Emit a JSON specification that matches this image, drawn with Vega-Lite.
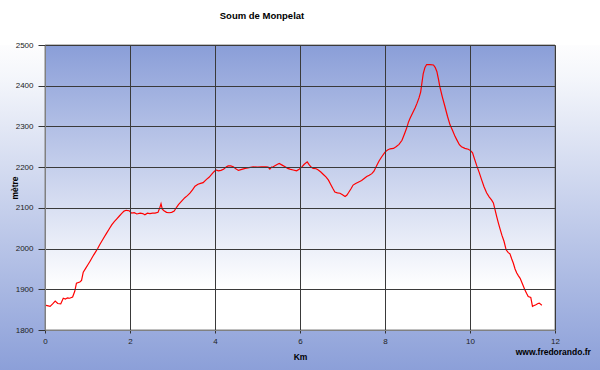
{
  "$schema": "https://vega.github.io/schema/vega-lite/v6.json",
  "width": 510,
  "height": 285,
  "autosize": "none",
  "padding": {"left": 45, "top": 45, "right": 45, "bottom": 40},
  "background": "white",
  "title": {
    "text": "Soum de Monpelat",
    "font": "Liberation Sans",
    "fontSize": 9.5,
    "fontWeight": "bold",
    "color": "#000000",
    "anchor": "middle",
    "frame": "group",
    "dx": -38,
    "offset": 21
  },
  "datasets": {
    "profile": [
      {"km": 0.00, "alt": 1861}, {"km": 0.05, "alt": 1860}, {"km": 0.12, "alt": 1858}, {"km": 0.18, "alt": 1864},
      {"km": 0.24, "alt": 1871}, {"km": 0.30, "alt": 1865}, {"km": 0.37, "alt": 1864}, {"km": 0.43, "alt": 1878},
      {"km": 0.48, "alt": 1876}, {"km": 0.53, "alt": 1879}, {"km": 0.58, "alt": 1878}, {"km": 0.65, "alt": 1881},
      {"km": 0.70, "alt": 1895}, {"km": 0.74, "alt": 1915}, {"km": 0.82, "alt": 1918}, {"km": 0.86, "alt": 1922},
      {"km": 0.90, "alt": 1942}, {"km": 0.96, "alt": 1952}, {"km": 1.02, "alt": 1962}, {"km": 1.06, "alt": 1969},
      {"km": 1.12, "alt": 1980}, {"km": 1.18, "alt": 1990}, {"km": 1.24, "alt": 2000}, {"km": 1.29, "alt": 2010},
      {"km": 1.37, "alt": 2024}, {"km": 1.45, "alt": 2038}, {"km": 1.51, "alt": 2048}, {"km": 1.57, "alt": 2058},
      {"km": 1.63, "alt": 2066}, {"km": 1.69, "alt": 2073}, {"km": 1.75, "alt": 2080}, {"km": 1.80, "alt": 2086},
      {"km": 1.86, "alt": 2092}, {"km": 1.91, "alt": 2094}, {"km": 1.98, "alt": 2093}, {"km": 2.04, "alt": 2087},
      {"km": 2.10, "alt": 2088}, {"km": 2.16, "alt": 2085}, {"km": 2.24, "alt": 2087}, {"km": 2.30, "alt": 2086},
      {"km": 2.35, "alt": 2083}, {"km": 2.41, "alt": 2087}, {"km": 2.47, "alt": 2086}, {"km": 2.53, "alt": 2087},
      {"km": 2.59, "alt": 2087}, {"km": 2.66, "alt": 2089}, {"km": 2.70, "alt": 2100}, {"km": 2.73, "alt": 2110},
      {"km": 2.76, "alt": 2097}, {"km": 2.80, "alt": 2093}, {"km": 2.86, "alt": 2089}, {"km": 2.92, "alt": 2088},
      {"km": 2.98, "alt": 2089}, {"km": 3.04, "alt": 2092}, {"km": 3.10, "alt": 2102}, {"km": 3.14, "alt": 2108},
      {"km": 3.22, "alt": 2117}, {"km": 3.29, "alt": 2125}, {"km": 3.35, "alt": 2130}, {"km": 3.41, "alt": 2136},
      {"km": 3.47, "alt": 2144}, {"km": 3.53, "alt": 2153}, {"km": 3.60, "alt": 2158}, {"km": 3.66, "alt": 2160},
      {"km": 3.72, "alt": 2162}, {"km": 3.80, "alt": 2170}, {"km": 3.86, "alt": 2175}, {"km": 3.92, "alt": 2182},
      {"km": 3.96, "alt": 2187}, {"km": 4.02, "alt": 2193}, {"km": 4.08, "alt": 2191}, {"km": 4.14, "alt": 2192},
      {"km": 4.20, "alt": 2195}, {"km": 4.27, "alt": 2201}, {"km": 4.31, "alt": 2203}, {"km": 4.37, "alt": 2203},
      {"km": 4.43, "alt": 2201}, {"km": 4.49, "alt": 2196}, {"km": 4.55, "alt": 2192}, {"km": 4.61, "alt": 2194},
      {"km": 4.71, "alt": 2197}, {"km": 4.80, "alt": 2199}, {"km": 4.90, "alt": 2201}, {"km": 5.00, "alt": 2200},
      {"km": 5.10, "alt": 2201}, {"km": 5.20, "alt": 2201}, {"km": 5.25, "alt": 2200}, {"km": 5.29, "alt": 2195},
      {"km": 5.33, "alt": 2200}, {"km": 5.37, "alt": 2201}, {"km": 5.45, "alt": 2206}, {"km": 5.51, "alt": 2209},
      {"km": 5.58, "alt": 2205}, {"km": 5.65, "alt": 2201}, {"km": 5.71, "alt": 2197}, {"km": 5.76, "alt": 2195},
      {"km": 5.84, "alt": 2193}, {"km": 5.92, "alt": 2191}, {"km": 5.98, "alt": 2195}, {"km": 6.04, "alt": 2200},
      {"km": 6.10, "alt": 2207}, {"km": 6.17, "alt": 2213}, {"km": 6.21, "alt": 2207}, {"km": 6.26, "alt": 2200},
      {"km": 6.31, "alt": 2197}, {"km": 6.38, "alt": 2196}, {"km": 6.43, "alt": 2193}, {"km": 6.49, "alt": 2188},
      {"km": 6.55, "alt": 2182}, {"km": 6.61, "alt": 2176}, {"km": 6.67, "alt": 2168}, {"km": 6.72, "alt": 2158},
      {"km": 6.77, "alt": 2148}, {"km": 6.82, "alt": 2139}, {"km": 6.88, "alt": 2137}, {"km": 6.94, "alt": 2136},
      {"km": 7.00, "alt": 2132}, {"km": 7.06, "alt": 2128}, {"km": 7.10, "alt": 2131}, {"km": 7.14, "alt": 2137},
      {"km": 7.20, "alt": 2147}, {"km": 7.25, "alt": 2156}, {"km": 7.31, "alt": 2160}, {"km": 7.37, "alt": 2163},
      {"km": 7.45, "alt": 2167}, {"km": 7.51, "alt": 2172}, {"km": 7.57, "alt": 2177}, {"km": 7.63, "alt": 2180},
      {"km": 7.69, "alt": 2184}, {"km": 7.74, "alt": 2190}, {"km": 7.80, "alt": 2203}, {"km": 7.86, "alt": 2215},
      {"km": 7.92, "alt": 2225}, {"km": 8.00, "alt": 2237}, {"km": 8.06, "alt": 2242}, {"km": 8.12, "alt": 2245},
      {"km": 8.20, "alt": 2246}, {"km": 8.26, "alt": 2250}, {"km": 8.33, "alt": 2256}, {"km": 8.40, "alt": 2266},
      {"km": 8.46, "alt": 2282}, {"km": 8.51, "alt": 2296}, {"km": 8.55, "alt": 2310}, {"km": 8.59, "alt": 2320},
      {"km": 8.65, "alt": 2333}, {"km": 8.71, "alt": 2346}, {"km": 8.75, "alt": 2356}, {"km": 8.80, "alt": 2370},
      {"km": 8.84, "alt": 2385}, {"km": 8.87, "alt": 2408}, {"km": 8.90, "alt": 2430}, {"km": 8.94, "alt": 2445},
      {"km": 8.98, "alt": 2452}, {"km": 9.06, "alt": 2452}, {"km": 9.14, "alt": 2451}, {"km": 9.18, "alt": 2445},
      {"km": 9.22, "alt": 2435}, {"km": 9.26, "alt": 2415}, {"km": 9.29, "alt": 2398}, {"km": 9.35, "alt": 2372},
      {"km": 9.41, "alt": 2349}, {"km": 9.47, "alt": 2325}, {"km": 9.53, "alt": 2304}, {"km": 9.59, "alt": 2290},
      {"km": 9.65, "alt": 2275}, {"km": 9.69, "alt": 2267}, {"km": 9.75, "alt": 2255}, {"km": 9.80, "alt": 2250},
      {"km": 9.88, "alt": 2246}, {"km": 9.96, "alt": 2244}, {"km": 10.02, "alt": 2240}, {"km": 10.06, "alt": 2235},
      {"km": 10.10, "alt": 2222}, {"km": 10.16, "alt": 2203}, {"km": 10.22, "alt": 2186}, {"km": 10.27, "alt": 2170},
      {"km": 10.33, "alt": 2152}, {"km": 10.39, "alt": 2137}, {"km": 10.45, "alt": 2127}, {"km": 10.51, "alt": 2119},
      {"km": 10.55, "alt": 2112}, {"km": 10.59, "alt": 2095}, {"km": 10.63, "alt": 2078}, {"km": 10.67, "alt": 2062},
      {"km": 10.71, "alt": 2047}, {"km": 10.75, "alt": 2033}, {"km": 10.80, "alt": 2018}, {"km": 10.85, "alt": 1997},
      {"km": 10.90, "alt": 1990}, {"km": 10.94, "alt": 1987}, {"km": 10.98, "alt": 1975}, {"km": 11.02, "alt": 1964},
      {"km": 11.06, "alt": 1950}, {"km": 11.10, "alt": 1940}, {"km": 11.14, "alt": 1933}, {"km": 11.18, "alt": 1927},
      {"km": 11.24, "alt": 1912}, {"km": 11.29, "alt": 1899}, {"km": 11.33, "alt": 1890}, {"km": 11.37, "alt": 1882},
      {"km": 11.43, "alt": 1880}, {"km": 11.47, "alt": 1858}, {"km": 11.51, "alt": 1860}, {"km": 11.55, "alt": 1862},
      {"km": 11.60, "alt": 1865}, {"km": 11.63, "alt": 1866}, {"km": 11.69, "alt": 1861}
    ]
  },
  "layer": [
    {
      "data": {"values": [{}]},
      "mark": {
        "type": "rect",
        "fill": {"gradient": "linear", "x1": 0, "y1": 0, "x2": 0, "y2": 1,
          "stops": [{"offset": 0, "color": "#fdfdfe"}, {"offset": 0.1, "color": "#f4f6fb"}, {"offset": 1, "color": "#8a9ed8"}]}
      },
      "encoding": {
        "x": {"datum": -1.2, "type": "quantitative", "scale": {"domain": [0, 12], "nice": false, "zero": false}},
        "x2": {"datum": 13.2},
        "y": {"datum": 1690, "type": "quantitative", "scale": {"domain": [1800, 2500], "nice": false, "zero": false}},
        "y2": {"datum": 2500}
      }
    },
    {
      "data": {"values": [{}]},
      "mark": {
        "type": "rect",
        "stroke": "#808080",
        "strokeWidth": 1,
        "fill": {"gradient": "linear", "x1": 0, "y1": 0, "x2": 0, "y2": 1,
          "stops": [{"offset": 0, "color": "#8a9ed8"}, {"offset": 0.85, "color": "#ffffff"}, {"offset": 1, "color": "#ffffff"}]}
      },
      "encoding": {
        "x": {"datum": 0, "type": "quantitative"},
        "x2": {"datum": 12},
        "y": {"datum": 1800, "type": "quantitative"},
        "y2": {"datum": 2500}
      }
    },
    {
      "data": {"name": "profile"},
      "mark": {"type": "line", "color": "#ff0000", "strokeWidth": 1.2, "interpolate": "linear"},
      "encoding": {
        "x": {
          "field": "km", "type": "quantitative",
          "scale": {"domain": [0, 12], "nice": false, "zero": false},
          "axis": {
            "zindex": 1,
            "values": [0, 2, 4, 6, 8, 10, 12],
            "format": "d",
            "title": "Km",
            "titleX": 255, "titleY": 26,
            "titleBaseline": "middle", "titleAlign": "center",
            "tickSize": 3, "labelPadding": 4
          }
        },
        "y": {
          "field": "alt", "type": "quantitative",
          "scale": {"domain": [1800, 2500], "nice": false, "zero": false},
          "axis": {
            "zindex": 1,
            "values": [1800, 1900, 2000, 2100, 2200, 2300, 2400, 2500],
            "format": "d",
            "title": "mètre",
            "titleX": -31, "titleY": 142.5,
            "titleAngle": 270,
            "titleBaseline": "middle", "titleAlign": "center",
            "tickSize": 7, "labelPadding": 5
          }
        }
      }
    },
    {
      "data": {"values": [{"label": "www.fredorando.fr"}]},
      "mark": {"type": "text", "font": "Liberation Sans", "fontWeight": "bold", "fontSize": 8.5, "color": "#000000", "align": "center", "baseline": "middle"},
      "encoding": {
        "x": {"datum": 11.96, "type": "quantitative"},
        "y": {"datum": 1747, "type": "quantitative"},
        "text": {"field": "label"}
      }
    }
  ],
  "config": {
    "view": {"stroke": null},
    "axis": {
      "grid": true,
      "gridColor": "#3a3a3a",
      "gridOpacity": 1,
      "gridWidth": 1,
      "domainColor": "#808080",
      "tickColor": "#333333",
      "labelFont": "Liberation Sans",
      "labelFontSize": 8,
      "labelColor": "#222222",
      "titleFont": "Liberation Sans",
      "titleFontSize": 8.5,
      "titleFontWeight": "bold",
      "titleColor": "#000000",
      "labelFlush": false,
      "labelOverlap": false
    }
  }
}
